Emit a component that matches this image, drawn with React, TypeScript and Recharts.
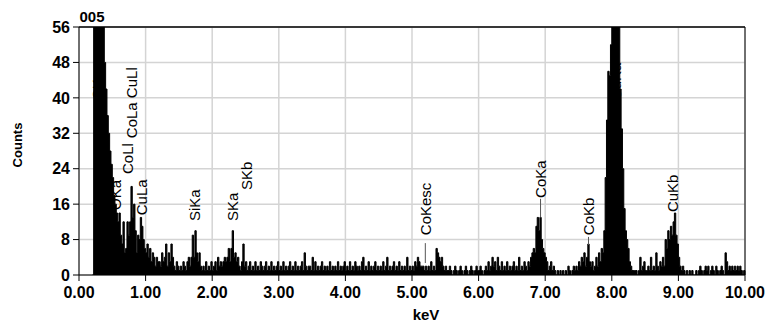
import { Area, AreaChart, CartesianGrid, ReferenceDot, ReferenceLine, XAxis, YAxis } from "recharts";

const START_KEV = 0.2;
const CHANNEL_KEV = 0.02;

// counts per 0.02 keV channel, starting at 0.20 keV
const lowCounts = [
  0, 65, 85, 105, 118, 110, 90, 70, 58, 48, 42, 36, 32, 28, 25, 22, 18, 16, 14, 12, 14, 9, 7, 12, 5,
  6, 12, 9, 12, 20, 13, 16, 10, 5, 9, 8, 13, 11, 8, 6, 5, 7, 4, 6, 3, 5, 4, 2, 4, 3,
  3, 2, 5, 3, 4, 7, 2, 5, 3, 7, 4, 2, 1, 3, 2, 1, 2, 1, 3, 2, 1, 3, 4, 2, 4,
  9, 4, 10, 5, 3, 5, 2, 1, 2, 1, 3, 1, 2, 1, 3, 1, 2, 3, 1, 4, 2, 3, 2, 3, 4,
  3, 4, 6, 3, 6, 10, 4, 5, 3, 4, 2, 1, 3, 7, 2, 3, 1, 2, 3, 1, 2, 1, 3, 1, 2,
];

const midCounts = [
  1, 3, 2, 1, 2, 3, 1, 2, 1, 3, 1, 2, 1, 2, 3, 1, 2, 1, 3, 1, 2, 1, 2, 3, 1,
  2, 1, 3, 1, 2, 1, 2, 3, 1, 5, 2, 1, 2, 2, 1, 4, 1, 3, 1, 2, 1, 2, 3, 1, 2,
  1, 2, 1, 3, 1, 2, 1, 2, 1, 3, 1, 2, 1, 2, 3, 1, 2, 1, 3, 1, 2, 1, 3, 2, 1,
  2, 1, 3, 4, 1, 2, 1, 3, 1, 2, 1, 2, 3, 1, 2, 1, 2, 1, 3, 1, 2, 4, 1, 2, 1,
  2, 3, 1, 2, 1, 3, 1, 2, 1, 2, 1, 4, 1, 2, 1, 2, 1, 3, 2, 4, 3, 2, 2, 2, 1,
  2, 1, 2, 1, 3, 1, 2, 1, 6, 5, 4, 3, 4, 2, 1, 2, 1, 1, 2, 1, 0, 1, 2, 1, 0,
  1, 2, 1, 0, 1, 2, 1, 0, 1, 2, 1, 0, 1, 2, 1, 1, 2, 1, 0, 1, 2, 1, 3, 1, 2,
  4, 2, 3, 1, 4, 2, 1, 3, 1, 2, 1, 3, 1, 2, 1, 2, 3, 1, 2, 1, 4, 1, 2, 1, 3,
];

const highCounts = [
  2, 1, 3, 2, 4, 5, 6, 5, 11, 13, 10, 13, 8, 6, 5, 4, 3, 1, 2, 3, 1, 2, 1, 0, 1,
  0, 1, 0, 1, 0, 1, 0, 2, 1, 0, 1, 2, 1, 2, 1, 3, 2, 4, 3, 5, 2, 4, 7, 3, 2,
  3, 1, 2, 4, 2, 5, 3, 6, 5, 10, 22, 35, 46, 45, 52, 80, 95, 100, 90, 75, 58, 42, 33, 24, 15,
  10, 8, 6, 3, 2, 1, 1, 1, 1, 0, 1, 4, 1, 2, 3, 1, 1, 2, 1, 4, 1, 2, 1, 5, 2,
  1, 3, 2, 4, 2, 8, 6, 10, 8, 11, 9, 12, 14, 9, 7, 4, 2, 1, 2, 1, 0, 1, 0, 1, 0,
  1, 0, 0, 1, 0, 1, 2, 1, 0, 1, 2, 1, 2, 0, 1, 2, 1, 0, 2, 1, 0, 1, 2, 1, 0,
  5, 3, 1, 2, 1, 2, 1, 2, 1, 2, 1, 2, 1, 0, 1, 0,
];

const xTicks = [0, 1, 2, 3, 4, 5, 6, 7, 8, 9, 10];
const yTicks = [0, 8, 16, 24, 32, 40, 48, 56];

// element line markers: energy, count at the foot of the label, optional leader [top, bottom]
const peakLabels: { name: string; keV: number; y: number; leader?: [number, number] }[] = [
  { name: "CKa", keV: 0.28, y: 39.5 },
  { name: "OKa", keV: 0.55, y: 14.7 },
  { name: "CoLl", keV: 0.73, y: 22.8 },
  { name: "CoLa CuLl", keV: 0.79, y: 30.9 },
  { name: "CuLa", keV: 0.94, y: 13.5 },
  { name: "SiKa", keV: 1.74, y: 12.2 },
  { name: "SKa", keV: 2.3, y: 12.2 },
  { name: "SKb", keV: 2.52, y: 19.2 },
  { name: "CoKesc", keV: 5.2, y: 9.0, leader: [7.2, 2.7] },
  { name: "CoKa", keV: 6.93, y: 17.4, leader: [17.2, 13] },
  { name: "CoKb", keV: 7.65, y: 9.0, leader: [8.6, 6.8] },
  { name: "CuKa", keV: 8.06, y: 39.5 },
  { name: "CuKb", keV: 8.92, y: 14.2 },
];

const counts = [...lowCounts, ...midCounts, ...highCounts];
const spectrum = counts.map((c, i) => ({
  keV: +(START_KEV + i * CHANNEL_KEV).toFixed(2),
  counts: c,
}));

const FONT = "'Liberation Sans', Arial, sans-serif";

export default function App() {
  return (
    <div style={{ position: "absolute", left: 0, top: 0, width: 766, height: 324, background: "#fff", fontFamily: FONT }}>
      <AreaChart width={766} height={324} data={spectrum} margin={{ top: 27, right: 21, bottom: 19, left: 0 }}>
        <CartesianGrid stroke="#d4d4d4" strokeWidth={1.5} horizontalValues={yTicks} verticalValues={xTicks} />
        <XAxis
          dataKey="keV"
          type="number"
          domain={[0, 10]}
          ticks={xTicks}
          tickFormatter={(v: number) => v.toFixed(2)}
          stroke="#000"
          tickSize={6}
          tickMargin={6}
          height={30}
          tick={{ fill: "#000", fontSize: 16, fontWeight: 700, fontFamily: FONT }}
        />
        <YAxis
          type="number"
          domain={[0, 56]}
          ticks={yTicks}
          allowDataOverflow
          stroke="#000"
          tickSize={6}
          tickMargin={3}
          width={79}
          tick={{ fill: "#000", fontSize: 16, fontWeight: 700, fontFamily: FONT }}
        />
        <Area
          type="stepAfter"
          dataKey="counts"
          stroke="#000"
          strokeWidth={1}
          fill="#000"
          fillOpacity={1}
          dot={false}
          activeDot={false}
          isAnimationActive={false}
        />
        <ReferenceLine y={56} stroke="#000" strokeWidth={1.5} />
        <ReferenceLine x={10} stroke="#000" strokeWidth={1} />
        {peakLabels
          .filter((p) => p.leader)
          .map((p) => (
            <ReferenceLine
              key={`l-${p.name}`}
              segment={[
                { x: p.keV, y: p.leader![0] },
                { x: p.keV, y: p.leader![1] },
              ]}
              stroke="#555"
              strokeWidth={1}
            />
          ))}
        {peakLabels.map((p) => (
          <ReferenceDot
            key={p.name}
            x={p.keV}
            y={p.y}
            ifOverflow="visible"
            shape={(props: any) => (
              <text
                x={props.cx}
                y={props.cy}
                dy="0.36em"
                transform={`rotate(-90, ${props.cx}, ${props.cy})`}
                fontSize={15}
                fontFamily={FONT}
                fill="#000"
              >
                {p.name}
              </text>
            )}
          />
        ))}
      </AreaChart>
      <svg width={766} height={324} style={{ position: "absolute", left: 0, top: 0, pointerEvents: "none" }}>
        <text x={79.5} y={22} fontSize={15} fontWeight={700} fontFamily={FONT} fill="#000">
          005
        </text>
        <text
          x={0}
          y={0}
          transform="translate(22, 145) rotate(-90)"
          textAnchor="middle"
          fontSize={13}
          fontWeight={700}
          fontFamily={FONT}
          fill="#000"
        >
          Counts
        </text>
        <text x={426} y={320} textAnchor="middle" fontSize={15} fontWeight={700} fontFamily={FONT} fill="#000">
          keV
        </text>
      </svg>
    </div>
  );
}
